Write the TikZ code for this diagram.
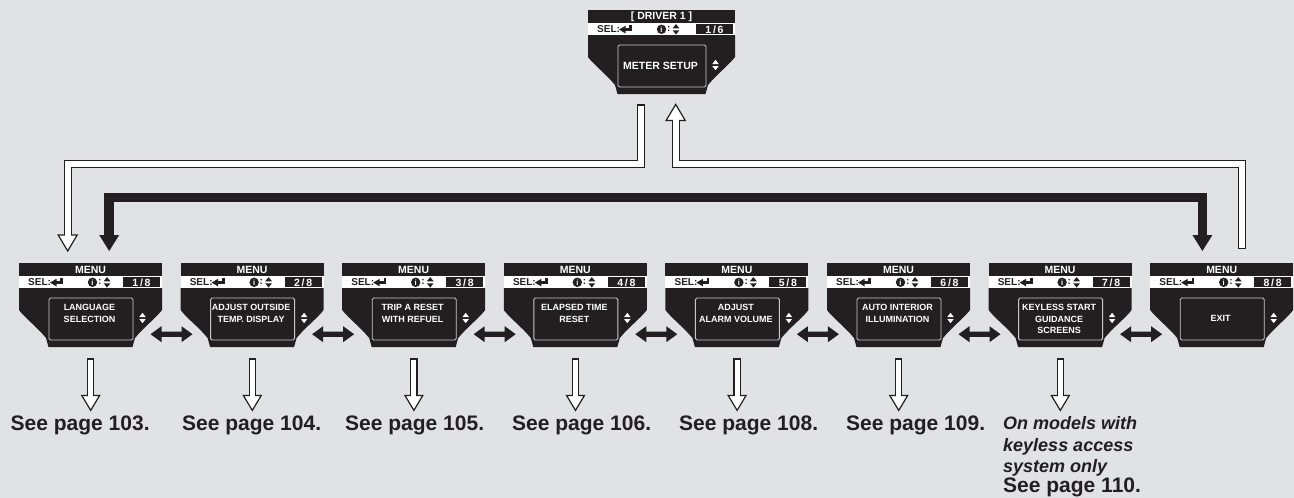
\documentclass[tikz,border=0pt]{standalone}
\usepackage{fontspec}
\setmainfont{Liberation Sans}
\usetikzlibrary{calc}
\definecolor{bg}{RGB}{225,226,228}
\definecolor{ink}{RGB}{35,31,32}
\definecolor{scr}{RGB}{200,200,200}
\tikzset{
  boxnode/.style={draw=none, inner sep=0pt, minimum height=84pt},
  hdr/.style={text=white, inner sep=0pt, font=\bfseries\fontsize{10.5}{12}\selectfont},
  seltxt/.style={text=ink, inner sep=0pt, font=\bfseries\fontsize{10}{12}\selectfont},
  cnt/.style={text=white, inner sep=0pt, font=\bfseries\fontsize{10.5}{12}\selectfont},
  infoi/.style={text=white, inner sep=0pt, font=\bfseries\fontsize{7.5}{8}\selectfont},
  scrtxt/.style={text=white, inner sep=0pt, align=center, font=\bfseries\fontsize{9}{11.8}\selectfont},
  lbl/.style={text=ink, inner sep=0pt, font=\bfseries\fontsize{21}{24}\selectfont},
  note/.style={text=ink, inner sep=0pt, align=left, font=\bfseries\itshape\fontsize{18}{21.8}\selectfont},
}
\newcommand\updn[5]{% x, y, colour, half width, height
  \fill[#3] ({#1-#4},{#2-1}) -- ({#1+#4},{#2-1}) -- (#1,{#2-1-#5}) -- cycle;
  \fill[#3] ({#1-#4},{#2+1}) -- ({#1+#4},{#2+1}) -- (#1,{#2+1+#5}) -- cycle;}
\newcommand\dispbox[8]{%
  \node[boxnode, minimum width=#4pt, anchor=north west] (#1) at (#2,#3) {};
  \begin{scope}[shift={(#1.north west)}]
    \fill[ink] (0,0) rectangle (#4,13.2);
    \fill[white] (0,13.2) rectangle (#4,25);
    \fill[ink] (0,25) -- (#4,25) -- (#4,47)
      .. controls ({#4-6},55) and ({#4-18},64) .. ({#4-27},75) -- ({#4-29.5},84)
      -- (29.5,84) -- (27,75) .. controls (18,64) and (6,55) .. (0,47) -- cycle;
    \filldraw[fill=ink, draw=scr, line width=0.9pt, rounded corners=1.5pt] (30,35) rectangle ({#4-29},77);
    \node[hdr] at ({#4/2},6.8) {#5};
    \node[seltxt, anchor=west] at (9,19.3) {SEL:};
    \fill[ink] (31,19.6) -- (37.5,15.8) -- (37.5,23.4) -- cycle;
    \fill[ink] (37,18.3) rectangle (44,20.9);
    \fill[ink] (41.4,15) rectangle (44,20.9);
    \fill[ink] (73.5,19.3) circle (4.7pt);
    \node[infoi] at (73.5,19.6) {i};
    \node[seltxt] at (80.8,19.1) {:};
    \updn{88}{19.3}{ink}{3.4}{4.2}
    \fill[ink] ({#4-39},14.4) rectangle ({#4-2},24);
    \node[cnt] at ({#4-20.5},19.3) {#6};
    \node[scrtxt] at ({#4/2-1},#8) {#7};
    \updn{#4-19.5}{55}{white}{3.2}{4.2}
  \end{scope}}
\newcommand\dblarrow[1]{%
  \fill[ink] ($(#1)+(-21,0)$) -- ++(11,-8) -- ++(0,5.4) -- ++(20,0) -- ++(0,-5.4)
    -- ++(11,8) -- ++(-11,8) -- ++(0,-5.4) -- ++(-20,0) -- ++(0,5.4) -- cycle;}
\newcommand\dnarrow[1]{%
  \coordinate (d#1s) at ($(m#1.south)+(0,11)$);
  \coordinate (d#1b) at ($(m#1.south)+(0,48)$);
  \coordinate (d#1t) at ($(m#1.south)+(0,63)$);
  \draw[ink, line width=7.4pt] (d#1s) -- (d#1b);
  \filldraw[fill=white, draw=ink, line width=1.2pt] (d#1t) -- ++(-9,-15) -- ++(18,0) -- cycle;
  \draw[white, line width=5pt] ($(d#1s)+(0,1.2)$) -- ($(d#1b)+(0,1.5)$);}
\begin{document}
\begin{tikzpicture}[x=1pt, y=-1pt]
\fill[bg] (0,0) rectangle (1294,498);
\useasboundingbox (0,0) rectangle (1294,498);

\dispbox{top}{588}{10}{147}{[ DRIVER 1 ]}{1\,/\,6}{{\fontsize{10.5}{12}\selectfont METER SETUP}}{55.5}
\dispbox{m1}{19}{263}{143}{MENU}{1\,/\,8}{LANGUAGE\\SELECTION}{50}
\dispbox{m2}{180.6}{263}{143}{MENU}{2\,/\,8}{ADJUST OUTSIDE\\TEMP. DISPLAY}{50}
\dispbox{m3}{342.2}{263}{143}{MENU}{3\,/\,8}{TRIP A RESET\\WITH REFUEL}{50}
\dispbox{m4}{503.8}{263}{143}{MENU}{4\,/\,8}{ELAPSED TIME\\RESET}{50}
\dispbox{m5}{665.4}{263}{143}{MENU}{5\,/\,8}{ADJUST\\ALARM VOLUME}{50}
\dispbox{m6}{827}{263}{143}{MENU}{6\,/\,8}{AUTO INTERIOR\\ILLUMINATION}{50}
\dispbox{m7}{988.6}{263}{143}{MENU}{7\,/\,8}{KEYLESS START\\GUIDANCE\\SCREENS}{56}
\dispbox{m8}{1150.2}{263}{143}{MENU}{8\,/\,8}{EXIT}{55.5}

% double arrows between menus
\foreach \a/\b in {m1/m2,m2/m3,m3/m4,m4/m5,m5/m6,m6/m7,m7/m8}{
  \coordinate (c\a) at ($($(\a.east)!0.5!(\b.west)$)+(0,29)$);
  \dblarrow{c\a}
}

% hollow connector top -> menu 1
\coordinate (hL0) at ($(top.south)+(-21,10)$);
\coordinate (hlev) at ($(top.south)+(0,69.5)$);
\coordinate (hLt) at ($(m1.north)+(-23,-12)$);
\coordinate (hLb) at ($(hLt)+(0,-16)$);
\draw[ink, line width=8pt] (hL0) -- (hL0 |- hlev) -- (hLb |- hlev) -- (hLb);
\filldraw[fill=white, draw=ink, line width=1.2pt] (hLt) -- ++(-9.5,-16) -- ++(19,0) -- cycle;
\draw[white, line width=5.6pt] ($(hL0)+(0,1.2)$) -- (hL0 |- hlev) -- (hLb |- hlev) -- ($(hLb)+(0,1.5)$);

% hollow connector menu 8 -> top
\coordinate (hR0) at ($(m8.north)+(20.3,-14)$);
\coordinate (hRt) at ($(top.south)+(14,10)$);
\coordinate (hRb) at ($(hRt)+(0,16)$);
\draw[ink, line width=8pt] (hR0) -- (hR0 |- hlev) -- (hRb |- hlev) -- (hRb);
\filldraw[fill=white, draw=ink, line width=1.2pt] (hRt) -- ++(-9.5,16) -- ++(19,0) -- cycle;
\draw[white, line width=5.6pt] ($(hR0)+(0,-1.2)$) -- (hR0 |- hlev) -- (hRb |- hlev) -- ($(hRb)+(0,-1.5)$);

% black connector menu 1 <-> menu 8
\coordinate (blev) at ($(top.south)+(0,103)$);
\coordinate (bLt) at ($(m1.north)+(18.5,-12)$);
\coordinate (bRt) at ($(m8.north)+(-19.5,-12)$);
\coordinate (bLb) at ($(bLt)+(0,-15)$);
\coordinate (bRb) at ($(bRt)+(0,-15)$);
\draw[ink, line width=9.5pt] (bLb) -- (bLb |- blev) -- (bRb |- blev) -- (bRb);
\fill[ink] (bLt) -- ++(-10,-16) -- ++(20,0) -- cycle;
\fill[ink] (bRt) -- ++(-10,-16) -- ++(20,0) -- cycle;

% down arrows
\foreach \i in {1,...,7}{\dnarrow{\i}}

% labels
\node[lbl, anchor=west] (s1) at (10.5,425) {See page 103.};
\node[lbl, anchor=west] (s2) at (182,425) {See page 104.};
\node[lbl, anchor=west] (s3) at (345,425) {See page 105.};
\node[lbl, anchor=west] (s4) at (512,425) {See page 106.};
\node[lbl, anchor=west] (s5) at (679,425) {See page 108.};
\node[lbl, anchor=west] (s6) at (846,425) {See page 109.};
\node[note, anchor=north west] (s7) at (1003,416) {On models with\\keyless access\\system only\\[-2.5pt]{\upshape\fontsize{21}{24}\selectfont See page 110.}};
\end{tikzpicture}
\end{document}
